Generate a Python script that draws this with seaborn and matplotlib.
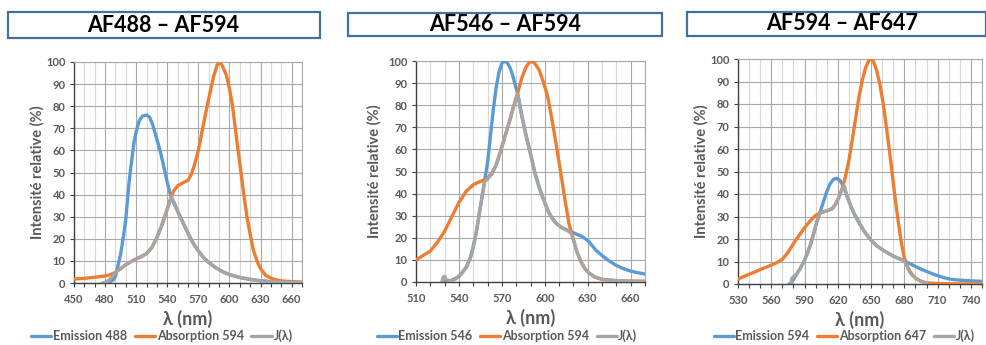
import numpy as np
import pandas as pd
import seaborn as sns
import matplotlib.pyplot as plt
from matplotlib.patches import Rectangle
from matplotlib.ticker import MultipleLocator

# ---- AF488 - AF594 ----
p1_em_x = [480, 485, 488, 490, 492, 495, 498, 500, 503, 505, 508, 510, 513, 516, 520, 523, 526, 530, 533,
           536, 540, 543, 545, 550, 555, 560, 565, 570, 575, 580, 585, 590, 595, 600, 610, 620, 630, 640,
           650, 660, 670]
p1_em_y = [0, 0.5, 1.5, 3, 7, 13, 22, 29, 45, 53, 64, 68.5, 73.5, 75.5, 76, 75, 71.5, 65, 60,
           54, 45.5, 40, 37.5, 32.5, 27.5, 22.5, 18, 14.5, 11.5, 9.3, 7.5, 6, 4.8, 3.8, 2.5, 1.6, 1.0, 0.6,
           0.4, 0.3, 0.2]
p1_abs_x = [450, 460, 470, 480, 485, 490, 495, 500, 505, 510, 515, 520, 525, 530, 535, 540, 543, 546, 550,
            555, 560, 563, 566, 570, 575, 580, 585, 588, 590, 593, 597, 600, 603, 607, 610, 613, 617, 620,
            623, 627, 630, 635, 640, 645, 650, 660, 670]
p1_abs_y = [1.8, 2.1, 2.6, 3.2, 3.8, 4.8, 6.5, 8.3, 9.7, 10.9, 12, 13.3, 16, 20.5, 26.5, 33.5, 38, 41.5, 44,
            45.3, 46.5, 49, 53, 60, 72, 83.5, 94, 98.5, 100, 98.5, 94, 88, 80, 65, 54, 43, 29.5, 22,
            15, 9.5, 6.5, 3.5, 2.2, 1.4, 1.0, 0.6, 0.4]
p1_j_x = [477, 480, 483, 486, 489, 492, 495, 500, 505, 510, 515, 520, 525, 530, 535, 540, 544, 547, 550,
          555, 560, 565, 570, 575, 580, 585, 590, 595, 600, 610, 620, 630, 640, 650, 660, 670]
p1_j_y = [0, 0.3, 1.0, 2.5, 4.3, 5.5, 6.5, 8.3, 9.7, 10.9, 12, 13.3, 16, 20.5, 26.5, 33.5, 39, 36, 32.5,
          27.5, 22.5, 18, 14.5, 11.5, 9.3, 7.5, 6, 4.8, 3.8, 2.5, 1.6, 1.0, 0.6, 0.4, 0.3, 0.2]

# ---- AF546 - AF594 ----
p2_em_x = [529, 535, 540, 545, 548, 550, 552, 554, 556, 558, 560, 562, 564, 566, 568, 570, 572, 574, 576,
           578, 580, 581, 584, 587, 590, 593, 596, 599, 602, 605, 608, 612, 616, 619, 622, 626, 630, 633,
           636, 640, 645, 650, 655, 660, 665, 670]
p2_em_y = [0, 0.8, 2.5, 6.5, 11, 16, 22, 30, 38, 46, 54, 66, 78, 88, 95, 99, 100, 99, 96.5,
           92.5, 87.5, 85.5, 75, 66, 58, 49.5, 43, 37.5, 32.5, 29, 26.5, 24.5, 23.3, 22.5, 21.7, 20.6, 18.8, 16.5,
           14.2, 12, 9.5, 7.5, 6, 4.9, 4.2, 3.6]
p2_abs_x = [510, 515, 520, 525, 530, 535, 540, 545, 550, 555, 559, 563, 566, 569, 572, 575, 578, 581, 584,
            587, 590, 593, 596, 599, 602, 605, 608, 611, 614, 617, 619, 622, 625, 628, 631, 635, 640, 650,
            660, 670]
p2_abs_y = [10, 12, 14, 18, 23, 29.5, 36, 41, 44, 45.5, 46.5, 49, 53, 59, 65.5, 72, 79, 85.5, 92.5,
            97.5, 100, 99, 96, 90.5, 84, 73.5, 62, 50, 37.5, 26, 21.5, 14.5, 9.5, 6, 4, 2.2, 1.2, 0.6,
            0.4, 0.3]
p2_j_x = [528, 529, 530, 531, 533, 536, 540, 545, 548, 550, 552, 554, 556, 558, 560, 563, 566, 569, 572,
          575, 578, 581, 584, 587, 590, 593, 596, 599, 602, 605, 608, 612, 616, 619, 622, 625, 628, 631,
          635, 640, 650, 660, 670]
p2_j_y = [0, 2.2, 2.6, 1.2, 0.6, 0.8, 2.5, 6.5, 11, 16, 22, 30, 38, 45.5, 46.5, 49, 53, 59, 65.5,
          72, 79, 85, 75, 66, 58, 49.5, 43, 37.5, 32.5, 29, 26.5, 24.5, 23.3, 21.5, 14.5, 9.5, 6, 4,
          2.2, 1.2, 0.6, 0.4, 0.3]

# ---- AF594 - AF647 ----
p3_em_x = [576, 578, 580, 583, 586, 589, 592, 595, 598, 601, 604, 607, 610, 613, 616, 619, 622, 625, 628,
           631, 635, 640, 645, 650, 655, 660, 665, 670, 675, 680, 685, 690, 695, 700, 705, 710, 715, 720,
           725, 730, 740, 750]
p3_em_y = [0, 0.5, 2, 4.5, 6.8, 9.5, 13, 17, 22, 27.5, 32, 36.5, 41, 44.5, 46.5, 47, 46, 43.5, 39.5,
           35.5, 31, 26.5, 22.5, 19.5, 17, 15.3, 13.8, 12.4, 11.3, 10.3, 9, 7.8, 6.6, 5.6, 4.6, 3.7, 2.9, 2.3,
           1.9, 1.7, 1.4, 1.2]
p3_abs_x = [530, 535, 540, 545, 550, 555, 560, 565, 570, 575, 580, 585, 590, 595, 600, 605, 610, 615, 618,
            621, 624, 627, 630, 633, 636, 639, 642, 645, 648, 650, 652, 655, 658, 661, 664, 667, 670, 673,
            676, 678, 680, 683, 686, 690, 695, 700, 710, 720, 750]
p3_abs_y = [2.2, 3.3, 4.3, 5.3, 6.4, 7.4, 8.4, 9.5, 11, 14, 18, 21.5, 25, 28, 30.5, 31.8, 32.5, 33.5, 35.5,
            38.5, 42.5, 48, 55, 64, 73.5, 83, 90.5, 96, 99.5, 100, 99, 95, 88.5, 80, 69, 57.5, 45, 33,
            22.5, 16.5, 11.5, 7.5, 4.8, 2.6, 1.2, 0.5, 0.2, 0.1, 0]
p3_j_x = [578, 578.5, 581, 583, 586, 589, 592, 595, 598, 601, 604, 607, 610, 615, 618, 621, 624, 626, 628,
          631, 635, 640, 645, 650, 655, 660, 665, 670, 675, 680, 682, 684, 686, 690, 695, 700]
p3_j_y = [0, 2.5, 3.7, 4.5, 6.8, 9.5, 13, 17, 22, 27.5, 31.3, 32, 32.5, 33.5, 35.5, 38.5, 42.5, 43.5, 39.5,
          35.5, 31, 26.5, 22.5, 19.5, 17, 15.3, 13.8, 12.4, 11.3, 10.3, 8.5, 6, 4.5, 2.6, 1.2, 0.4]

panels = [
    dict(title="AF488 – AF594", xlim=(450, 670),
         em=("Emission 488", p1_em_x, p1_em_y), ab=("Absorption 594", p1_abs_x, p1_abs_y),
         j=(p1_j_x, p1_j_y)),
    dict(title="AF546 – AF594", xlim=(510, 670),
         em=("Emission 546", p2_em_x, p2_em_y), ab=("Absorption 594", p2_abs_x, p2_abs_y),
         j=(p2_j_x, p2_j_y)),
    dict(title="AF594 – AF647", xlim=(530, 750),
         em=("Emission 594", p3_em_x, p3_em_y), ab=("Absorption 647", p3_abs_x, p3_abs_y),
         j=(p3_j_x, p3_j_y)),
]

# layout in pixels (figure 987 x 345)
W, H = 987, 345
axes_px = [(74, 62, 302, 283), (416, 61, 645, 282), (738, 59, 982, 284)]
box_px = [(8, 12, 320, 38), (348, 13, 662, 36), (687, 12, 986, 36)]
title_cx = [163, 505, 842]
legend_cx = [162, 507, 844]
ylabel_off = [-29, -34, -29]

sns.set_style("white")
plt.rcParams['font.family'] = ['Lato', 'DejaVu Sans']
plt.rcParams['font.weight'] = 'bold'

colors = ["#5B9BD5", "#ED7D31", "#A5A5A5"]
grey_txt = "#595959"

fig = plt.figure(figsize=(W / 100, H / 100), dpi=100)

for i, p in enumerate(panels):
    l, t, r, b = axes_px[i]
    ax = fig.add_axes([l / W, 1 - b / H, (r - l) / W, (b - t) / H])

    em_name, em_x, em_y = p["em"]
    ab_name, ab_x, ab_y = p["ab"]
    j_x, j_y = p["j"]
    df = pd.concat([
        pd.DataFrame({"x": em_x, "y": em_y, "serie": em_name}),
        pd.DataFrame({"x": ab_x, "y": ab_y, "serie": ab_name}),
        pd.DataFrame({"x": j_x, "y": j_y, "serie": "J(λ)"}),
    ])
    sns.lineplot(data=df, x="x", y="y", hue="serie", palette=colors, estimator=None,
                 linewidth=2.4, ax=ax, legend=True, zorder=3)

    x0, x1 = p["xlim"]
    ax.set_xlim(x0, x1)
    ax.set_ylim(0, 100)
    ax.xaxis.set_major_locator(MultipleLocator(30, offset=x0 % 30))
    ax.xaxis.set_minor_locator(MultipleLocator(10, offset=x0 % 10))
    ax.yaxis.set_major_locator(MultipleLocator(10))
    ax.grid(which="major", color="#A8A8A8", linewidth=0.8, zorder=0)
    ax.grid(which="minor", axis="x", color="#D8D8D8", linewidth=0.8, zorder=0)
    ax.set_axisbelow(True)

    for side in ["left", "bottom"]:
        ax.spines[side].set_color("#404040")
        ax.spines[side].set_linewidth(1.0)
    for side in ["top", "right"]:
        ax.spines[side].set_color("#A8A8A8")
        ax.spines[side].set_linewidth(0.8)

    ax.tick_params(which="both", direction="out", length=3, width=0.8, color="#404040",
                   labelsize=8, labelcolor=grey_txt, pad=3)
    ax.tick_params(axis="x", which="major", pad=5)
    ax.tick_params(axis="y", which="both", left=True)
    ax.tick_params(axis="x", which="both", bottom=True)

    ax.set_xlabel("λ (nm)", fontsize=13, fontweight="bold", color=grey_txt)
    ax.set_ylabel("Intensité relative (%)", fontsize=10.5, fontweight="bold", color=grey_txt)
    ax.xaxis.set_label_coords(0.5, -27 / (b - t))
    ax.yaxis.set_label_coords(ylabel_off[i] / (r - l), 0.5)

    handles, labels = ax.get_legend_handles_labels()
    ax.legend(handles, labels, loc="center", ncol=3, frameon=False,
              bbox_to_anchor=(legend_cx[i] / W, 1 - 336 / H), bbox_transform=fig.transFigure,
              prop={"weight": "bold", "size": 9}, labelcolor=grey_txt,
              handlelength=1.6, handletextpad=0.15, columnspacing=0.6, borderpad=0)
    for line in ax.get_legend().get_lines():
        line.set_linewidth(2.4)

    # title box
    bl, bt, br, bb = box_px[i]
    fig.add_artist(Rectangle((bl / W, 1 - bb / H), (br - bl) / W, (bb - bt) / H,
                             transform=fig.transFigure, facecolor="white",
                             edgecolor="#41719C", linewidth=1.6))
    fig.text(title_cx[i] / W, 1 - (bt + bb) / 2 / H, p["title"], ha="center", va="center",
             fontsize=15.5, fontweight="bold", color="black")

fig.savefig("out.png", dpi=100)
